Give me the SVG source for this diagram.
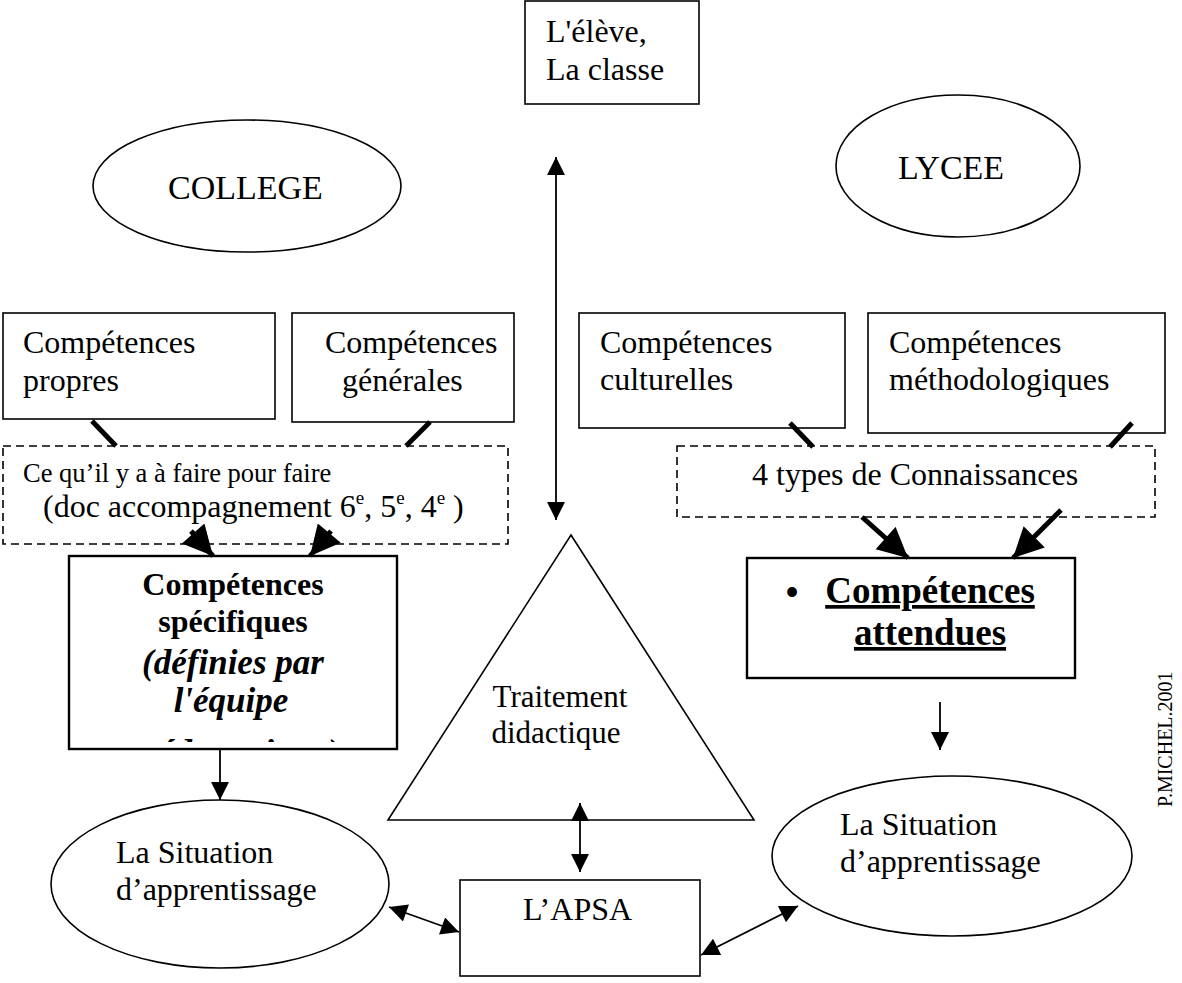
<svg xmlns="http://www.w3.org/2000/svg" width="1182" height="983" viewBox="0 0 1182 983">
<style>
  .box{fill:#fff;stroke:#000;stroke-width:1.6}
  .thick{fill:#fff;stroke:#000;stroke-width:2.4}
  .dash{fill:#fff;stroke:#000;stroke-width:1.6;stroke-dasharray:8 5}
  .t{font-family:"Liberation Serif","Times New Roman",serif;fill:#000}
  .thin{stroke:#000;stroke-width:1.8;fill:none}
  .heavy{stroke:#000;stroke-width:5;fill:none}
</style>
<defs>
  <marker id="ah" viewBox="0 0 10 10" refX="10" refY="5" markerWidth="22" markerHeight="18" markerUnits="userSpaceOnUse" orient="auto-start-reverse">
    <path d="M0,0 L10,5 L0,10 z" fill="#000"/>
  </marker>
  <marker id="hh" viewBox="0 0 10 10" refX="10" refY="5" markerWidth="32" markerHeight="30" markerUnits="userSpaceOnUse" orient="auto">
    <path d="M0,0 L10,5 L0,10 z" fill="#000"/>
  </marker>
  <clipPath id="specClip"><rect x="70" y="557" width="326" height="185"/></clipPath>
</defs>

<g id="eleve">
  <rect class="box" x="525" y="1" width="174" height="103"/>
  <text class="t" x="546" y="42" font-size="32">L'élève,</text>
  <text class="t" x="546" y="80" font-size="32">La classe</text>
</g>

<g id="college">
  <ellipse class="box" cx="247" cy="186" rx="154" ry="66"/>
  <text class="t" x="168" y="199" font-size="34">COLLEGE</text>
</g>

<g id="lycee">
  <ellipse class="box" cx="958" cy="166" rx="122" ry="71"/>
  <text class="t" x="898" y="179" font-size="34">LYCEE</text>
</g>

<g id="comp-propres">
  <rect class="box" x="3" y="313" width="272" height="106"/>
  <text class="t" x="23" y="353" font-size="32">Compétences</text>
  <text class="t" x="23" y="391" font-size="32">propres</text>
</g>

<g id="comp-generales">
  <rect class="box" x="292" y="313" width="222" height="109"/>
  <text class="t" x="325" y="353" font-size="32">Compétences</text>
  <text class="t" x="342" y="391" font-size="32">générales</text>
</g>

<g id="comp-culturelles">
  <rect class="box" x="579" y="313" width="266" height="115"/>
  <text class="t" x="600" y="353" font-size="32">Compétences</text>
  <text class="t" x="600" y="390" font-size="32">culturelles</text>
</g>

<g id="comp-methodo">
  <rect class="box" x="868" y="313" width="297" height="120"/>
  <text class="t" x="889" y="353" font-size="32">Compétences</text>
  <text class="t" x="889" y="390" font-size="32">méthodologiques</text>
</g>

<g id="ce-quil-y-a">
  <rect class="dash" x="3" y="446" width="505" height="98"/>
  <text class="t" x="23" y="482" font-size="26.5">Ce qu’il y a à faire pour faire</text>
  <text class="t" x="43" y="517" font-size="32">(doc accompagnement 6<tspan font-size="19" dy="-13">e</tspan><tspan dy="13">, 5</tspan><tspan font-size="19" dy="-13">e</tspan><tspan dy="13">, 4</tspan><tspan font-size="19" dy="-13">e</tspan><tspan dy="13"> )</tspan></text>
</g>

<g id="quatre-types">
  <rect class="dash" x="677" y="446" width="478" height="71"/>
  <text class="t" x="752" y="485" font-size="32">4 types de Connaissances</text>
</g>

<g id="comp-specifiques">
  <rect class="thick" x="69" y="556" width="328" height="193"/>
  <text class="t" x="233" y="595" font-size="32" font-weight="bold" text-anchor="middle">Compétences</text>
  <text class="t" x="233" y="632" font-size="32" font-weight="bold" text-anchor="middle">spécifiques</text>
  <text class="t" x="233" y="674" font-size="35" font-weight="bold" font-style="italic" text-anchor="middle">(définies par</text>
  <text class="t" x="231" y="712" font-size="35" font-weight="bold" font-style="italic" text-anchor="middle">l'équipe</text>
  <text class="t" x="240" y="764" font-size="36" font-weight="bold" font-style="italic" text-anchor="middle" clip-path="url(#specClip)">pédagogique)</text>
</g>

<g id="comp-attendues">
  <rect class="thick" x="747" y="558" width="328" height="120"/>
  <text x="792" y="604" font-family="'Liberation Sans',Arial,sans-serif" font-size="36" text-anchor="middle">•</text>
  <text class="t" x="930" y="603" font-size="37" font-weight="bold" text-anchor="middle" text-decoration="underline">Compétences</text>
  <text class="t" x="930" y="645" font-size="37" font-weight="bold" text-anchor="middle" text-decoration="underline">attendues</text>
</g>

<g id="traitement">
  <polygon class="box" points="571,535 754,820 388,820"/>
  <text class="t" x="560" y="707" font-size="31" text-anchor="middle">Traitement</text>
  <text class="t" x="556" y="743" font-size="31" text-anchor="middle">didactique</text>
</g>

<g id="situation-college">
  <ellipse class="box" cx="220" cy="884" rx="169" ry="84"/>
  <text class="t" x="116" y="863" font-size="32">La Situation</text>
  <text class="t" x="116" y="900" font-size="32">d’apprentissage</text>
</g>

<g id="apsa">
  <rect class="box" x="460" y="880" width="240" height="96"/>
  <text class="t" x="523" y="920" font-size="32">L’APSA</text>
</g>

<g id="situation-lycee">
  <ellipse class="box" cx="952" cy="856" rx="180" ry="80"/>
  <text class="t" x="840" y="835" font-size="32">La Situation</text>
  <text class="t" x="840" y="872" font-size="32">d’apprentissage</text>
</g>

<g id="signature">
  <text class="t" font-size="20" transform="translate(1172,807) rotate(-90)">P.MICHEL.2001</text>
</g>

<g id="connectors">
  <line class="thin" x1="556" y1="157" x2="556" y2="520" marker-start="url(#ah)" marker-end="url(#ah)"/>
  <line class="thin" x1="580" y1="803" x2="580" y2="872" marker-start="url(#ah)" marker-end="url(#ah)"/>
  <line class="thin" x1="389" y1="907" x2="459" y2="932" marker-start="url(#ah)" marker-end="url(#ah)"/>
  <line class="thin" x1="701" y1="955" x2="798" y2="906" marker-start="url(#ah)" marker-end="url(#ah)"/>
  <line class="thin" x1="220" y1="749" x2="220" y2="800" marker-end="url(#ah)"/>
  <line class="thin" x1="940" y1="702" x2="940" y2="750" marker-end="url(#ah)"/>

  <line class="heavy" x1="92" y1="421" x2="116" y2="446"/>
  <line class="heavy" x1="430" y1="422" x2="406" y2="446"/>
  <line class="heavy" x1="191" y1="531" x2="213" y2="556" marker-end="url(#hh)"/>
  <line class="heavy" x1="331" y1="531" x2="310" y2="556" marker-end="url(#hh)"/>

  <line class="heavy" x1="790" y1="423" x2="813" y2="447"/>
  <line class="heavy" x1="1132" y1="423" x2="1110" y2="447"/>
  <line class="heavy" x1="862" y1="517" x2="908" y2="558" marker-end="url(#hh)"/>
  <line class="heavy" x1="1061" y1="510" x2="1013" y2="558" marker-end="url(#hh)"/>
</g>
</svg>
